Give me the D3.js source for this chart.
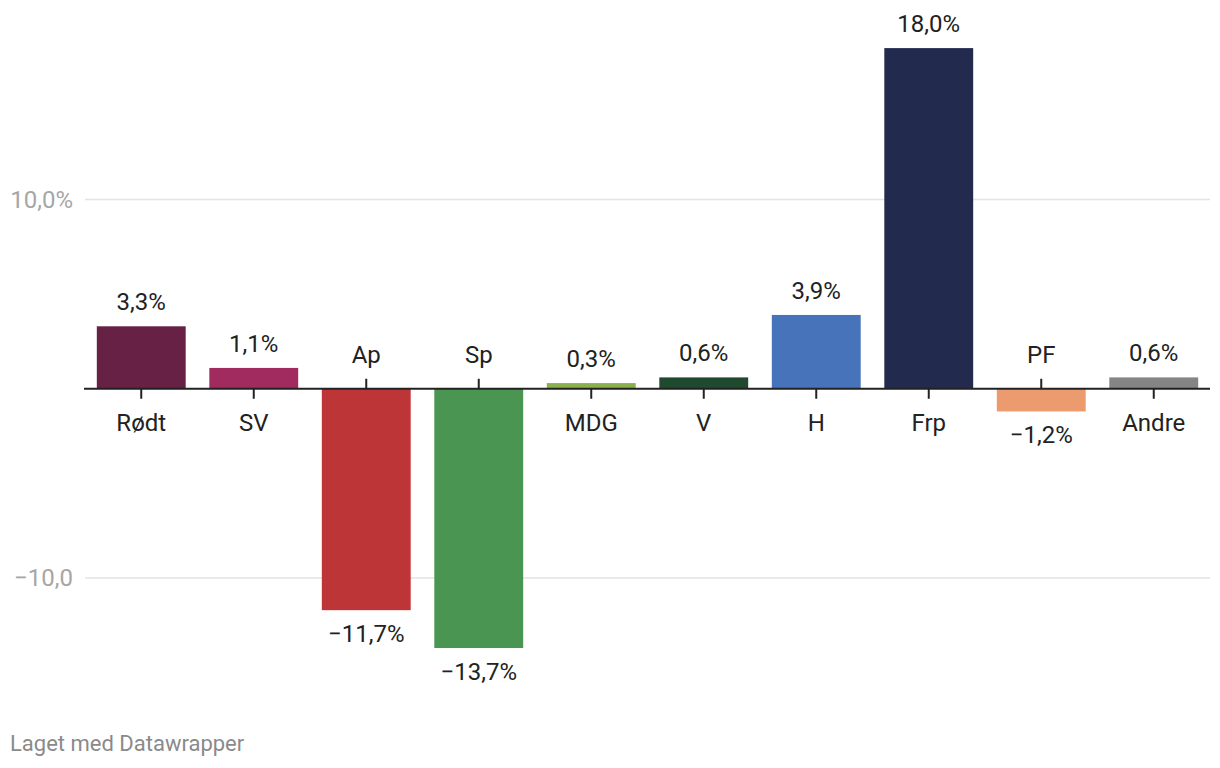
<!DOCTYPE html>
<html><head><meta charset="utf-8">
<script src="https://cdn.jsdelivr.net/npm/d3@7"></script>
<style>
body{margin:0;background:#fff;font-family:Roboto,sans-serif;}
</style></head><body>
<svg id="c" width="1220" height="768"></svg>
<script>
const categories = ["Rødt","SV","Ap","Sp","MDG","V","H","Frp","PF","Andre"];
const values = [3.3,1.1,-11.7,-13.7,0.3,0.6,3.9,18.0,-1.2,0.6];
const colors = ["#662144","#a12a5e","#bd3536","#4a9552","#8ab14e","#1f4a30","#4673ba","#222b4e","#eb9b6e","#858585"];
const yTicks = [-10,10];
const yTickLabels = ["−10,0","10,0%"];

const svg = d3.select("#c");
const x = d3.scaleBand().domain(categories).range([85,1210]).paddingInner(0.21).paddingOuter(0.105);
const y = d3.scaleLinear().domain([-10,10]).range([578,199.5]);
const fmt = v => (v<0?"−":"") + Math.abs(v).toFixed(1).replace(".",",") + "%";

// grid
const g = svg.append("g");
yTicks.forEach((t,i)=>{
  g.append("line").attr("x1",85).attr("x2",1210).attr("y1",y(t)).attr("y2",y(t))
    .attr("stroke","#e3e3e3").attr("stroke-width",1.5);
  g.append("text").attr("x",73).attr("y",y(t)+8).attr("text-anchor","end")
    .attr("font-size",24).attr("fill","#a6a6a6").text(yTickLabels[i]);
});

// bars
svg.append("g").selectAll("rect").data(categories).join("rect")
  .attr("x",d=>x(d)).attr("width",x.bandwidth())
  .attr("y",(d,i)=>Math.min(y(values[i]),y(0)))
  .attr("height",(d,i)=>Math.abs(y(values[i])-y(0)))
  .attr("fill",(d,i)=>colors[i]);

// zero line
svg.append("line").attr("x1",84).attr("x2",1210).attr("y1",y(0)).attr("y2",y(0))
  .attr("stroke","#222").attr("stroke-width",2);

// ticks
svg.append("g").selectAll("line").data(categories).join("line")
  .attr("x1",d=>x(d)+x.bandwidth()/2).attr("x2",d=>x(d)+x.bandwidth()/2)
  .attr("y1",y(0)).attr("y2",(d,i)=>values[i]<0?y(0)-10:y(0)+10)
  .attr("stroke","#222").attr("stroke-width",2);

// category labels
svg.append("g").selectAll("text").data(categories).join("text")
  .attr("x",d=>x(d)+x.bandwidth()/2)
  .attr("y",(d,i)=>values[i]<0?y(0)-26:y(0)+42)
  .attr("text-anchor","middle").attr("font-size",24).attr("fill","#222").text(d=>d);

// value labels
svg.append("g").selectAll("text").data(categories).join("text")
  .attr("x",d=>x(d)+x.bandwidth()/2)
  .attr("y",(d,i)=>values[i]<0?y(values[i])+32:y(values[i])-16)
  .attr("text-anchor","middle").attr("font-size",24).attr("fill","#222").text((d,i)=>fmt(values[i]));

svg.append("text").attr("x",10).attr("y",751).attr("font-size",22).attr("fill","#8a8a8a").text("Laget med Datawrapper");
</script></body></html>
